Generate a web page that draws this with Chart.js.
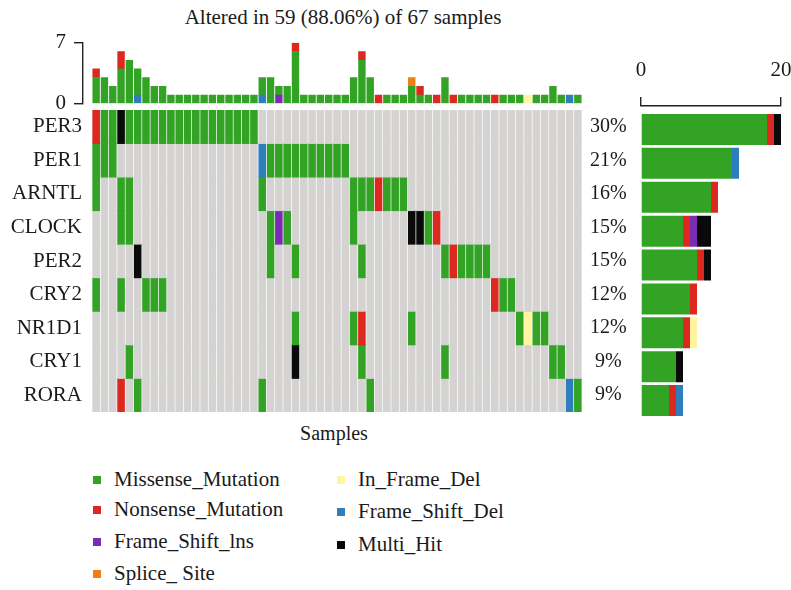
<!DOCTYPE html>
<html><head><meta charset="utf-8">
<script src="https://cdn.jsdelivr.net/npm/chart.js@4.4.1/dist/chart.umd.min.js"></script>
<style>
html,body{margin:0;padding:0;background:#fff;}
body{width:791px;height:590px;overflow:hidden;position:relative;font-family:"Liberation Serif","DejaVu Serif",serif;color:#1a1a1a;}
.box{position:absolute;}
.txt{position:absolute;white-space:nowrap;}
.sq{position:absolute;width:7.5px;height:7.5px;}
</style></head><body>

<div class="txt" id="title" style="left:143px;width:400px;text-align:center;top:5px;font-size:21px;line-height:24px;">Altered in 59 (88.06%) of 67 samples</div>
<div class="box" style="left:0;top:30px;width:582px;height:92px;"><canvas id="topChart"></canvas></div>
<div class="box" style="left:0;top:100px;width:634px;height:320px;"><canvas id="gridChart"></canvas></div>
<div class="box" style="left:600px;top:0;width:191px;height:430px;"><canvas id="sideChart"></canvas></div>
<div class="txt" style="left:234px;width:200px;text-align:center;top:421px;font-size:20px;line-height:24px;">Samples</div>
<div id="legend"></div>

<script>
// ---------- data ----------
const GENES = ['PER3','PER1','ARNTL','CLOCK','PER2','CRY2','NR1D1','CRY1','RORA'];
const PCTS  = ['30%','21%','16%','15%','15%','12%','12%','9%','9%'];

// mutation classes (code letters used in the grid rows)
const TYPE_NAMES = ['Missense_Mutation','Nonsense_Mutation','Frame_Shift_lns','Splice_ Site','In_Frame_Del','Frame_Shift_Del','Multi_Hit'];
const TYPE_CODES = ['M','N','I','S','Y','D','H'];
const TYPE_COLORS = ['#33a326','#dc281e','#7a2db0','#f07f12','#fff4a0','#307dbd','#0a0a0a'];
const NONE_COLOR = '#d4d3d1';

// oncoprint rows, 59 altered samples (groups of 10 separated by |); '.' = not altered
const ROW_PER3  = 'NMMHMMMMMM|MMMMMMMMMM|..........|..........|..........|.........';
const ROW_PER1  = 'MMM.......|..........|DMMMMMMMMM|M.........|..........|.........';
const ROW_ARNTL = 'M..MM.....|..........|M.........|.MMMNMMM..|..........|.........';
const ROW_CLOCK = '...MM.....|..........|.MIM......|.M......HH|MN........|.........';
const ROW_PER2  = '.....H....|..........|.M..M.....|..M.......|..MNMMMM..|.........';
const ROW_CRY2  = 'M..M..MMM.|..........|..........|..........|........NM|M........';
const ROW_NR1D1 = '..........|..........|....M.....|.MN.....M.|..........|.MYMM....';
const ROW_CRY1  = '....M.....|..........|....H.....|..M.......|..M.......|.....MM..';
const ROW_RORA  = '...N.M....|..........|M.........|...M......|..........|.......DM';

// top panel: mutations per sample, by class
const TOP_MISSENSE = [3,3,2,4,5,3,3,2,2,1, 1,1,1,1,1,1,1,1,1,1, 2,3,1,2,6,1,1,1,1,1, 1,3,5,3,0,1,1,1,2,1, 1,0,3,0,1,1,1,1,0,1, 1,1,0,1,1,2,1,0,1];
const TOP_NONSENSE = [1,0,0,2,0,0,0,0,0,0, 0,0,0,0,0,0,0,0,0,0, 0,0,0,0,1,0,0,0,0,0, 0,0,1,0,1,0,0,0,0,1, 0,1,0,1,0,0,0,0,1,0, 0,0,0,0,0,0,0,0,0];
const TOP_FS_INS   = [0,0,0,0,0,0,0,0,0,0, 0,0,0,0,0,0,0,0,0,0, 0,0,1,0,0,0,0,0,0,0, 0,0,0,0,0,0,0,0,0,0, 0,0,0,0,0,0,0,0,0,0, 0,0,0,0,0,0,0,0,0];
const TOP_SPLICE   = [0,0,0,0,0,0,0,0,0,0, 0,0,0,0,0,0,0,0,0,0, 0,0,0,0,0,0,0,0,0,0, 0,0,0,0,0,0,0,0,1,0, 0,0,0,0,0,0,0,0,0,0, 0,0,0,0,0,0,0,0,0];
const TOP_IF_DEL   = [0,0,0,0,0,0,0,0,0,0, 0,0,0,0,0,0,0,0,0,0, 0,0,0,0,0,0,0,0,0,0, 0,0,0,0,0,0,0,0,0,0, 0,0,0,0,0,0,0,0,0,0, 0,0,1,0,0,0,0,0,0];
const TOP_FS_DEL   = [0,0,0,0,0,1,0,0,0,0, 0,0,0,0,0,0,0,0,0,0, 1,0,0,0,0,0,0,0,0,0, 0,0,0,0,0,0,0,0,0,0, 0,0,0,0,0,0,0,0,0,0, 0,0,0,0,0,0,0,1,0];
const TOP_TICKS = [0, 7];
const SIDE_TICKS = [0, 20];

// ---------- build ----------
const ROWS = [ROW_PER3,ROW_PER1,ROW_ARNTL,ROW_CLOCK,ROW_PER2,ROW_CRY2,ROW_NR1D1,ROW_CRY1,ROW_RORA]
  .map(r => r.replace(/\|/g,'').split(''));
const NS = ROWS[0].length;
const SAMPLES = ROWS[0].map((_, i) => 'Sample ' + (i + 1));
const colorOf = c => { const k = TYPE_CODES.indexOf(c); return k < 0 ? NONE_COLOR : TYPE_COLORS[k]; };
const FONT = '"Liberation Serif", "DejaVu Serif", serif';
const INK = '#1a1a1a';
const noPad = s => { s.paddingTop = 0; s.paddingBottom = 0; s.paddingLeft = 0; s.paddingRight = 0; };

Chart.defaults.font.family = FONT;
Chart.defaults.color = INK;
Chart.defaults.animation = false;
Chart.defaults.plugins.legend.display = false;
Chart.defaults.plugins.tooltip.enabled = false;
Chart.defaults.responsive = true;
Chart.defaults.maintainAspectRatio = false;

// ---- top panel ----
const topSets = [
  ['D', TOP_FS_DEL], ['I', TOP_FS_INS], ['M', TOP_MISSENSE],
  ['N', TOP_NONSENSE], ['S', TOP_SPLICE], ['Y', TOP_IF_DEL]
].map(([code, arr]) => ({
  data: arr.map((v, i) => ({x: i, y: v > 0 ? v : null})),
  backgroundColor: colorOf(code),
  borderWidth: 0,
  barThickness: 6.9,
  inflateAmount: 0.25
}));
new Chart(document.getElementById('topChart'), {
  type: 'bar',
  data: {datasets: topSets},
  options: {
    layout: {padding: {top: 12.7, bottom: 18.3, left: 0, right: 0}},
    scales: {
      x: {type: 'linear', min: -1.584, max: NS - 0.5, display: false, stacked: true,
          offset: false, ticks: {display: false}, afterFit: noPad},
      y: {
        type: 'linear', min: TOP_TICKS[0], max: TOP_TICKS[1], stacked: true, position: 'left',
        afterBuildTicks: s => { s.ticks = TOP_TICKS.map(v => ({value: v})); },
        afterFit: s => { s.width = 83; noPad(s); },
        ticks: {font: {size: 21}, padding: 8, color: INK},
        grid: {drawOnChartArea: false, tickLength: 9, color: '#222', lineWidth: 1.4},
        border: {display: true, color: '#222', width: 1.4}
      }
    }
  }
});

// ---- oncoprint grid ----
const gridSets = ROWS.map((row, g) => ({
  data: row.map(() => [g, g + 1]),
  backgroundColor: row.map(colorOf),
  borderWidth: 0,
  grouped: false,
  barPercentage: 1,
  categoryPercentage: 0.82,
  inflateAmount: 0.4
}));
new Chart(document.getElementById('gridChart'), {
  type: 'bar',
  data: {labels: SAMPLES, datasets: gridSets},
  options: {
    layout: {padding: {top: 10, bottom: 8, left: 0, right: 0}},
    scales: {
      x: {display: false, ticks: {display: false}, afterFit: noPad},
      y: {
        type: 'linear', min: 0, max: GENES.length, reverse: true, position: 'left',
        afterBuildTicks: s => { s.ticks = GENES.map((_, i) => ({value: i + 0.5})); },
        afterFit: s => { s.width = 92; noPad(s); },
        ticks: {autoSkip: false, font: {size: 21}, padding: 10, color: INK,
                callback: (v, i) => GENES[i]},
        grid: {display: false, drawTicks: false},
        border: {display: false}
      },
      y2: {
        type: 'linear', min: 0, max: GENES.length, reverse: true, position: 'right',
        afterBuildTicks: s => { s.ticks = GENES.map((_, i) => ({value: i + 0.5})); },
        afterFit: s => { s.width = 52; noPad(s); },
        ticks: {autoSkip: false, font: {size: 20}, padding: 8, color: INK, crossAlign: 'center',
                callback: (v, i) => PCTS[i]},
        grid: {display: false, drawTicks: false},
        border: {display: false}
      }
    }
  }
});

// ---- side bar chart (counts per gene by class, built from the grid rows) ----
const SIDE_ORDER = ['M','N','I','Y','D','H'];
const sideSets = SIDE_ORDER.map(code => ({
  data: ROWS.map((row, g) => {
    const n = row.filter(c => c === code).length;
    return {x: n > 0 ? n : null, y: g};
  }),
  backgroundColor: colorOf(code),
  borderWidth: 0,
  barThickness: 31,
  inflateAmount: 0
}));
new Chart(document.getElementById('sideChart'), {
  type: 'bar',
  data: {datasets: sideSets},
  options: {
    indexAxis: 'y',
    layout: {padding: {top: 0, bottom: 12.5, left: 41, right: 10}},
    scales: {
      x: {
        type: 'linear', min: SIDE_TICKS[0], max: SIDE_TICKS[1], stacked: true, position: 'top',
        afterBuildTicks: s => { s.ticks = SIDE_TICKS.map(v => ({value: v})); },
        afterFit: s => { s.height = 106; noPad(s); },
        ticks: {font: {size: 21}, padding: 14, color: INK, maxRotation: 0},
        grid: {drawOnChartArea: false, tickLength: 9, color: '#222', lineWidth: 1.4},
        border: {display: true, color: '#222', width: 1.4}
      },
      y: {type: 'linear', min: -0.693, max: GENES.length - 0.5, reverse: true, stacked: true,
          display: false, offset: false, ticks: {display: false}, afterFit: noPad}
    }
  }
});

// ---- legend (HTML text) ----
const LEGEND_POS = [
  [93, 114, 480], [93, 114, 510], [93, 114, 542], [93, 114, 574],
  [337, 358, 480], [337, 358, 512], [337, 358, 545]
];
const LEGEND_ORDER = [0, 1, 2, 3, 4, 5, 6];
const lg = document.getElementById('legend');
LEGEND_ORDER.forEach((k, j) => {
  const [sx, tx, cy] = LEGEND_POS[j];
  const sq = document.createElement('div');
  sq.className = 'sq';
  sq.style.left = sx + 'px'; sq.style.top = (cy - 3.75) + 'px';
  sq.style.background = TYPE_COLORS[k];
  lg.appendChild(sq);
  const t = document.createElement('div');
  t.className = 'txt';
  t.style.left = tx + 'px'; t.style.top = (cy - 13) + 'px';
  t.style.fontSize = '21px'; t.style.lineHeight = '24px';
  t.textContent = TYPE_NAMES[k];
  lg.appendChild(t);
});
</script>
</body></html>
